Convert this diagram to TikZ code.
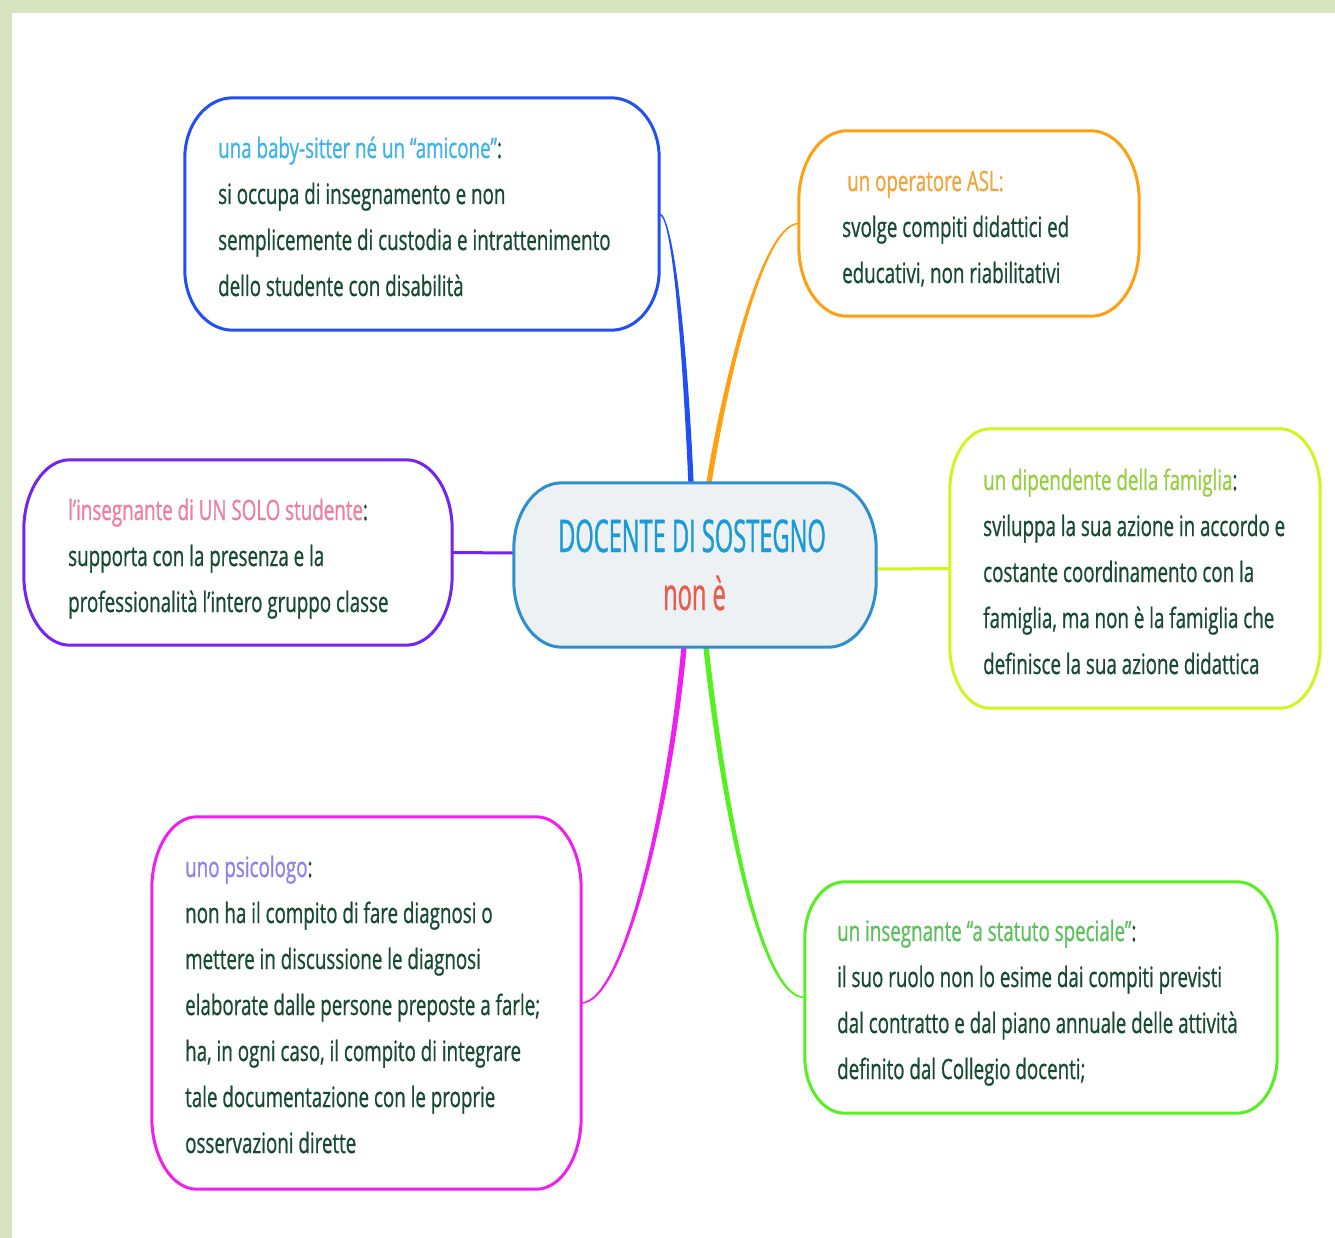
\documentclass[tikz,border=0pt]{standalone}
\usepackage{fontspec}
\setmainfont{Open Sans}[FakeStretch=0.67,FakeBold=0.7]
\newfontfamily\titlefont{Open Sans}[FakeStretch=0.525,FakeBold=0.8]
\usetikzlibrary{calc}
\definecolor{band}{HTML}{D8E3C0}
\definecolor{bodytxt}{HTML}{174A33}
\definecolor{sblue}{HTML}{1F4FF5}
\definecolor{tblue}{HTML}{3CB4EA}
\definecolor{sorange}{HTML}{FFA011}
\definecolor{torange}{HTML}{F0A43A}
\definecolor{cfill}{HTML}{EDF1F3}
\definecolor{cstroke}{HTML}{2D8FD0}
\definecolor{ctitle}{HTML}{1A9AD6}
\definecolor{cred}{HTML}{E85C4C}
\definecolor{spurple}{HTML}{7424F0}
\definecolor{tpink}{HTML}{F07CA0}
\definecolor{slime}{HTML}{D2F51E}
\definecolor{tlime}{HTML}{95D040}
\definecolor{smag}{HTML}{F01FF0}
\definecolor{tlav}{HTML}{9080E8}
\definecolor{sgreen}{HTML}{55F01F}
\definecolor{tgreen}{HTML}{5CC05C}
% box outline with elliptical corners: [options]{node}{x radius}{y radius}
\newcommand\ellbox[4][]{%
  \path[#1] ([xshift=#3]#2.north west) -- ([xshift=-#3]#2.north east)
    arc[start angle=90,end angle=0,x radius=#3,y radius=#4]
    -- ([yshift=#4]#2.south east)
    arc[start angle=0,end angle=-90,x radius=#3,y radius=#4]
    -- ([xshift=#3]#2.south west)
    arc[start angle=270,end angle=180,x radius=#3,y radius=#4]
    -- ([yshift=-#4]#2.north west)
    arc[start angle=180,end angle=90,x radius=#3,y radius=#4] -- cycle;}
\tikzset{
  box/.style={draw=none, inner sep=0pt},
  outline/.style={draw, fill=white, line width=3pt},
  txt/.style={anchor=base west, align=left, inner sep=0pt, text=bodytxt,
    font=\fontsize{28}{46}\selectfont},
  conn/.style={line width=3pt, line cap=round},
  taper/.style={fill, draw, line width=1.3pt, line join=round},
  ctxt/.style={anchor=base, inner sep=0pt, font=\titlefont\fontsize{45}{50}\selectfont}
}
\begin{document}
\begin{tikzpicture}[x=1pt,y=-1pt]
\useasboundingbox (0,0) rectangle (1335,1238);
\fill[white] (0,0) rectangle (1335,1238);
\fill[band] (0,0) rectangle (1335,13);
\fill[band] (0,0) rectangle (12,1238);

% box nodes
\node[box, minimum width=362pt, minimum height=164pt] (c) at (695,565) {};
\node[box, minimum width=474pt, minimum height=232pt] (b1) at (422,214) {};
\node[box, minimum width=340pt, minimum height=185pt] (b2) at (969,223.5) {};
\node[box, minimum width=428pt, minimum height=185pt] (b3) at (238,552.5) {};
\node[box, minimum width=370pt, minimum height=279pt] (b4) at (1135,568.5) {};
\node[box, minimum width=429pt, minimum height=372pt] (b5) at (366.5,1003) {};
\node[box, minimum width=472pt, minimum height=231pt] (b6) at (1041,997.5) {};

% connectors (tapered: thick at the centre, thin at the boxes)
\draw[taper, sblue] ([xshift=-6pt]c.north) .. controls (682,330) and (672,213) .. (b1.east)
   .. controls (672,215) and (686,330) .. ([xshift=-2pt]c.north) -- cycle;
\draw[taper, sorange] ([xshift=12pt]c.north) .. controls (720,400) and (760,223) .. (b2.west)
   .. controls (760,225) and (724,400) .. ([xshift=16pt]c.north) -- cycle;
\draw[conn, spurple] ([yshift=12pt]c.west) -- (b3.east);
\draw[conn, slime] ([yshift=-4pt]c.east) -- (b4.west);
\draw[taper, smag] ([xshift=-13pt]c.south) .. controls (668,800) and (625,1001) .. (b5.east)
   .. controls (625,1004) and (672,800) .. ([xshift=-9pt]c.south) -- cycle;
\draw[taper, sgreen] ([xshift=9pt]c.south) .. controls (722,812) and (760,999) .. (b6.west)
   .. controls (760,996) and (726,808) .. ([xshift=13pt]c.south) -- cycle;

% box outlines
\ellbox[outline, draw=cstroke, fill=cfill]{c}{48pt}{66pt}
\ellbox[outline, draw=sblue]{b1}{48pt}{60pt}
\ellbox[outline, draw=sorange]{b2}{48pt}{70pt}
\ellbox[outline, draw=spurple]{b3}{46pt}{70pt}
\ellbox[outline, draw=slime]{b4}{40pt}{62pt}
\ellbox[outline, draw=smag]{b5}{45pt}{72pt}
\ellbox[outline, draw=sgreen]{b6}{40pt}{56pt}

% central text
\node[ctxt, text=ctitle] (ct1) at (692,552) {DOCENTE DI SOSTEGNO};
\node[ctxt, text=cred] (ct2) at (694.5,610) {non è};

% box texts (anchor = baseline of the last line)
\node[txt] (t1) at (218,296) {\textcolor{tblue}{una baby-sitter né un “amicone”}:\\
si occupa di insegnamento e non\\
semplicemente di custodia e intrattenimento\\
dello studente con disabilità};

\node[txt] (t2) at (842,283) {\hspace{5pt}\textcolor{torange}{un operatore ASL:}\\
svolge compiti didattici ed\\
educativi, non riabilitativi};

\node[txt] (t3) at (68,612) {\textcolor{tpink}{l’insegnante di UN SOLO studente}:\\
supporta con la presenza e la\\
professionalità l’intero gruppo classe};

\node[txt] (t4) at (983,674) {\textcolor{tlime}{un dipendente della famiglia}:\\
sviluppa la sua azione in accordo e\\
costante coordinamento con la\\
famiglia, ma non è la famiglia che\\
definisce la sua azione didattica};

\node[txt] (t5) at (185,1153) {\textcolor{tlav}{uno psicologo}:\\
non ha il compito di fare diagnosi o\\
mettere in discussione le diagnosi\\
elaborate dalle persone preposte a farle;\\
ha, in ogni caso, il compito di integrare\\
tale documentazione con le proprie\\
osservazioni dirette};

\node[txt] (t6) at (837,1079) {\textcolor{tgreen}{un insegnante “a statuto speciale”}:\\
il suo ruolo non lo esime dai compiti previsti\\
dal contratto e dal piano annuale delle attività\\
definito dal Collegio docenti;};
\end{tikzpicture}
\end{document}
